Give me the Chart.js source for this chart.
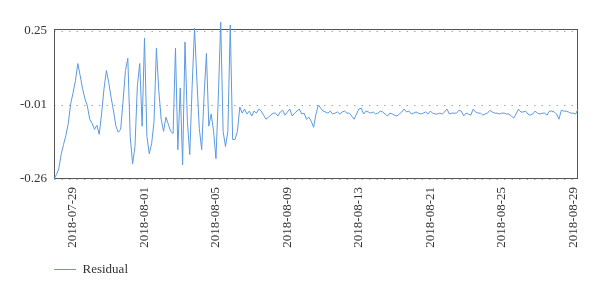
<!DOCTYPE html>
<html>
<head>
<meta charset="utf-8">
<script src="https://cdn.jsdelivr.net/npm/chart.js@4.4.1/dist/chart.umd.min.js"></script>
<style>
  html, body { margin: 0; padding: 0; background: #fff; }
  #wrap { width: 600px; height: 294px; }
</style>
</head>
<body>
<div id="wrap"><canvas id="chartResidual"></canvas></div>
<script>
// residual series
const residual = [
  -0.26, -0.245, -0.225, -0.176, -0.141, -0.110, -0.068, -0.001, 0.037, 0.079,
  0.138, 0.096, 0.051, 0.016, -0.008, -0.054, -0.068, -0.089, -0.075, -0.106,
  -0.033, 0.051, 0.114, 0.072, 0.020, -0.026, -0.078, -0.099, -0.089, 0.009,
  0.114, 0.156, -0.113, -0.208, -0.148, 0.061, 0.138, -0.078, 0.226, -0.113,
  -0.173, -0.138, -0.061, 0.191, 0.044, -0.054, -0.096, -0.047, -0.071, -0.096,
  -0.103, 0.191, -0.159, 0.054, -0.211, 0.212, -0.061, -0.176, 0.061, 0.260,
  0.079, -0.085, -0.159, 0.026, 0.173, -0.078, -0.036, -0.096, -0.190, 0.026,
  0.281, -0.096, -0.148, -0.096, 0.271, -0.124, -0.124, -0.096,
  -0.012, -0.033, -0.019, -0.036, -0.026, -0.043, -0.026, -0.033, -0.019, -0.026,
  -0.040, -0.054, -0.047, -0.040, -0.033, -0.033, -0.043, -0.029, -0.023, -0.040,
  -0.029, -0.019, -0.043, -0.033, -0.026, -0.019, -0.036, -0.033, -0.054, -0.047,
  -0.061, -0.082, -0.036, -0.005, -0.016, -0.026, -0.029, -0.033, -0.026, -0.036,
  -0.033, -0.029, -0.036, -0.029, -0.026, -0.033, -0.033, -0.043, -0.054, -0.036,
  -0.019, -0.016, -0.036, -0.026, -0.029, -0.033, -0.029, -0.036, -0.033, -0.026,
  -0.029, -0.036, -0.043, -0.033, -0.036, -0.040, -0.043, -0.036, -0.029, -0.019,
  -0.029, -0.026, -0.036, -0.033, -0.029, -0.033, -0.036, -0.033, -0.029, -0.036,
  -0.026, -0.033, -0.036, -0.036, -0.033, -0.036, -0.029, -0.019, -0.036, -0.033,
  -0.033, -0.033, -0.023, -0.026, -0.043, -0.033, -0.036, -0.040, -0.019, -0.029,
  -0.033, -0.033, -0.040, -0.036, -0.033, -0.023, -0.029, -0.033, -0.033, -0.036,
  -0.033, -0.033, -0.036, -0.036, -0.043, -0.050, -0.036, -0.019, -0.029, -0.029,
  -0.026, -0.036, -0.040, -0.036, -0.026, -0.033, -0.036, -0.033, -0.033, -0.040,
  -0.026, -0.026, -0.029, -0.036, -0.054, -0.023, -0.026, -0.026, -0.029, -0.033,
  -0.033, -0.036, -0.019
];

// x tick labels and the points they sit on
const tickLabels = ['2018-07-29', '2018-08-01', '2018-08-05', '2018-08-09', '2018-08-13', '2018-08-21', '2018-08-25', '2018-08-29'];
const tickIndex = [8, 38, 68, 98, 128, 158, 188, 218];

// y ticks (min, middle, max)
const yTicks = [-0.26, -0.005, 0.25];
const yTickLabels = ['-0.26', '-0.01', '0.25'];

const categories = residual.map((v, i) => {
  const k = tickIndex.indexOf(i);
  return k >= 0 ? tickLabels[k] : '';
});

const serif = "'Liberation Serif', 'DejaVu Serif', serif";

// full frame round the plot area
const frameBox = {
  id: 'frameBox',
  beforeDatasetsDraw(chart) {
    const { ctx, chartArea: a } = chart;
    ctx.save();
    ctx.strokeStyle = '#555';
    ctx.lineWidth = 1;
    ctx.strokeRect(Math.round(a.left) + 0.5, Math.round(a.top) + 0.5,
      Math.round(a.right - a.left) - 1, Math.round(a.bottom - a.top) - 1);
    ctx.restore();
  }
};

new Chart(document.getElementById('chartResidual'), {
  type: 'line',
  data: {
    labels: categories,
    datasets: [{
      label: 'Residual',
      data: residual,
      borderColor: '#5b9ae0',
      backgroundColor: '#5b9ae0',
      borderWidth: 1,
      pointRadius: 0,
      tension: 0,
      fill: false,
      clip: false
    }]
  },
  options: {
    responsive: true,
    maintainAspectRatio: false,
    animation: false,
    layout: { padding: { top: 29, right: 22, bottom: 8, left: 0 } },
    plugins: {
      tooltip: { enabled: false },
      legend: {
        position: 'bottom',
        align: 'start',
        fullSize: false,
        labels: {
          usePointStyle: true,
          pointStyle: 'line',
          pointStyleWidth: 22,
          padding: 0,
          color: '#333',
          font: { family: serif, size: 13 }
        }
      }
    },
    scales: {
      x: {
        type: 'category',
        offset: false,
        grid: { display: false },
        border: { display: false },
        afterBuildTicks: scale => { scale.ticks = tickIndex.map(v => ({ value: v })); },
        afterFit: scale => { scale.height = 84; },
        ticks: {
          autoSkip: false,
          minRotation: 90,
          maxRotation: 90,
          padding: 0,
          color: '#333',
          font: { family: serif, size: 13 }
        }
      },
      y: {
        min: -0.26,
        max: 0.257,
        afterBuildTicks: scale => { scale.ticks = yTicks.map(v => ({ value: v })); },
        afterFit: scale => { scale.width = 54; },
        grid: { color: '#aaa', lineWidth: 1, drawTicks: false },
        border: { display: false, dash: [1.5, 6] },
        ticks: {
          padding: 7,
          color: '#333',
          font: { family: serif, size: 13 },
          callback: (v, i) => yTickLabels[i]
        }
      }
    }
  },
  plugins: [frameBox]
});
</script>
</body>
</html>
